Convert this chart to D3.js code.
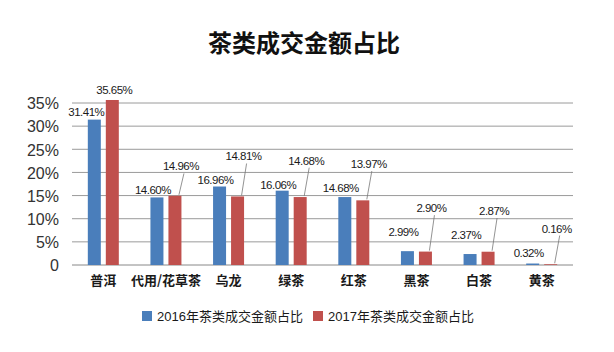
<!DOCTYPE html>
<html>
<head>
<meta charset="utf-8">
<script src="https://cdn.jsdelivr.net/npm/d3@7"></script>
<style>
body { margin: 0; background: #fff; }
text { font-family: "Liberation Sans", Arial, "Noto Sans CJK SC", sans-serif; }
</style>
</head>
<body>
<script>
const categories = ["普洱", "代用/花草茶", "乌龙", "绿茶", "红茶", "黑茶", "白茶", "黄茶"]
const v2016 = [31.41, 14.60, 16.96, 16.06, 14.68, 2.99, 2.37, 0.32]
const v2017 = [35.65, 14.96, 14.81, 14.68, 13.97, 2.90, 2.87, 0.16]
const seriesNames = ["2016年茶类成交金额占比", "2017年茶类成交金额占比"]
const yTicks = [0, 5, 10, 15, 20, 25, 30, 35]

// label placement (px above bar top), picked by eye
const lift2016 = [2, 1, 0, 0, 3, 13, 13, 5]

const c = { blue: "#4a7ebb", red: "#c0504d", grid: "#9a9a9a", text: "#1a1a1a" }
const W = 614, H = 352
const m = { left: 72, right: 41, top: 103, bottom: 87 }

const svg = d3.select("body").append("svg").attr("width", W).attr("height", H)

const x = d3.scaleBand().domain(categories).range([m.left, W - m.right])
const y = d3.scaleLinear().domain([0, 35]).range([H - m.bottom, m.top])

svg.append("text")
    .attr("x", 304).attr("y", 52)
    .attr("text-anchor", "middle")
    .style("font-family", "'Noto Sans CJK SC'")
    .style("font-weight", "bold").style("font-size", "24px")
    .attr("fill", "#111")
    .text("茶类成交金额占比")

// gridlines
svg.append("g")
    .selectAll("line").data(yTicks).join("line")
    .attr("x1", m.left).attr("x2", W - m.right)
    .attr("y1", d => y(d)).attr("y2", d => y(d))
    .attr("stroke", d => d === 0 ? "#888" : c.grid)
    .attr("stroke-width", 1)

const yAxis = svg.append("g")
    .attr("transform", `translate(${m.left - 10},0)`)
    .call(d3.axisLeft(y).tickValues(yTicks).tickSize(0).tickFormat(d => d === 0 ? "0" : d + "%"))
yAxis.select(".domain").remove()
yAxis.selectAll("text").style("font-size", "16px").attr("fill", "#333").attr("dy", "0.36em")

const xAxis = svg.append("g")
    .attr("transform", `translate(0,${H - m.bottom})`)
    .call(d3.axisBottom(x).tickSize(0).tickPadding(11))
xAxis.select(".domain").remove()
xAxis.selectAll("text")
    .style("font-family", "'Noto Sans CJK SC'")
    .style("font-size", "13px").style("font-weight", "bold").attr("fill", c.text)

const bw = 13, off = 9
const cx = (d, s) => x(d) + x.bandwidth() / 2 + s * off

const series = [{ vals: v2016, col: c.blue, s: -1 }, { vals: v2017, col: c.red, s: 1 }]
series.forEach(se => {
    svg.append("g").selectAll("rect").data(categories).join("rect")
        .attr("x", d => cx(d, se.s) - bw / 2)
        .attr("width", bw)
        .attr("y", (d, i) => y(se.vals[i]))
        .attr("height", (d, i) => y(0) - y(se.vals[i]))
        .attr("fill", se.col)
})

const fmt = v => v.toFixed(2) + "%"
const lab = svg.append("g").style("font-size", "11.5px").style("letter-spacing", "-0.5px").attr("fill", c.text)

categories.forEach((d, i) => {
    const ly = y(v2016[i]) - lift2016[i] - 2
    const lx = cx(d, -1) - (i === 0 ? 8 : 4)
    lab.append("text").attr("x", lx).attr("y", ly).attr("text-anchor", "middle").text(fmt(v2016[i]))
    if (i === 0) {
        lab.append("text").attr("x", cx(d, 1) + 2).attr("y", y(v2017[i]) - 6)
            .attr("text-anchor", "middle").text(fmt(v2017[i]))
    } else {
        const tx = lx + 28, ty = ly - 24
        lab.append("text").attr("x", tx).attr("y", ty).attr("text-anchor", "middle").text(fmt(v2017[i]))
        svg.append("line")
            .attr("x1", tx + 3).attr("y1", ty + 3)
            .attr("x2", cx(d, 1) + 4).attr("y2", y(v2017[i]) - 1)
            .attr("stroke", "#777").attr("stroke-width", 0.8)
    }
})

// legend
const lg = svg.append("g").attr("transform", "translate(142,311)")
seriesNames.forEach((n, i) => {
    const g = lg.append("g").attr("transform", `translate(${i * 171},0)`)
    g.append("rect").attr("width", 10).attr("height", 10).attr("fill", i ? c.red : c.blue)
    g.append("text").attr("x", 15).attr("y", 10)
        .style("font-family", "'Liberation Sans', 'Noto Sans CJK SC'")
        .style("font-size", "13px").attr("fill", c.text).text(n)
})
</script>
</body>
</html>
